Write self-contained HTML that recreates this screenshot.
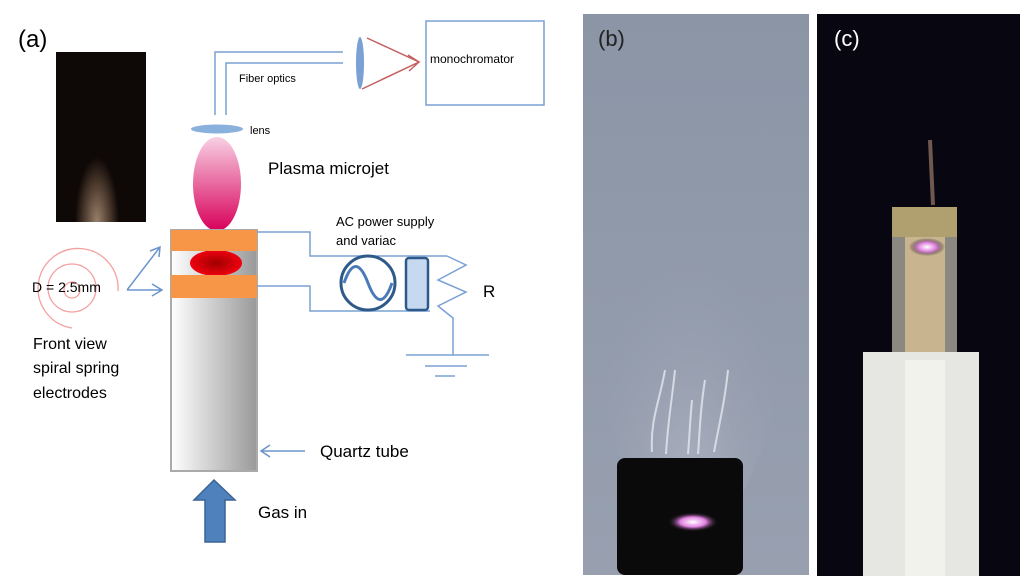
<!DOCTYPE html>
<html><head><meta charset="utf-8"><style>
body{margin:0;background:#fff;width:1027px;height:585px;overflow:hidden}
svg{display:block}
text{font-family:"Liberation Sans",sans-serif}
</style></head><body>
<svg width="1027" height="585" viewBox="0 0 1027 585" xmlns="http://www.w3.org/2000/svg">
<defs>
<linearGradient id="tube" x1="0" x2="1"><stop offset="0" stop-color="#fff"/><stop offset="1" stop-color="#999"/></linearGradient>
<linearGradient id="plasma" x1="0" y1="0" x2="0" y2="1"><stop offset="0" stop-color="#f8d0e4"/><stop offset="1" stop-color="#d8005a"/></linearGradient>
<radialGradient id="red"><stop offset="0" stop-color="#a00000"/><stop offset="1" stop-color="#f00010"/></radialGradient>
<radialGradient id="jetA"><stop offset="0" stop-color="#9a806c"/><stop offset="0.6" stop-color="#4a382c"/><stop offset="1" stop-color="#0e0806"/></radialGradient>
<linearGradient id="bg" x1="0" y1="0" x2="0" y2="1"><stop offset="0" stop-color="#8b95a6"/><stop offset="1" stop-color="#98a0b0"/></linearGradient>
<radialGradient id="glow"><stop offset="0" stop-color="#fff"/><stop offset="0.5" stop-color="#e080e0"/><stop offset="1" stop-color="#000" stop-opacity="0"/></radialGradient>
<radialGradient id="mist" cx="0.5" cy="0.9" r="0.7"><stop offset="0" stop-color="#b8bcca"/><stop offset="1" stop-color="#8b95a6" stop-opacity="0"/></radialGradient>
<clipPath id="ph"><rect x="56" y="52" width="90" height="170"/></clipPath>
</defs>
<text x="18" y="47" font-size="24">(a)</text>
<rect x="56" y="52" width="90" height="170" fill="#0e0806"/>
<ellipse cx="97" cy="222" rx="22" ry="65" fill="url(#jetA)" clip-path="url(#ph)"/>
<!-- fiber -->
<path d="M215 115V52H343M226 115V63H343" fill="none" stroke="#7aa0d4" stroke-width="1.5"/>
<text x="239" y="82" font-size="11">Fiber optics</text>
<ellipse cx="360" cy="63" rx="4" ry="26" fill="#7aa0d4"/>
<path d="M367 38L419 62L362 89M408 55L419 62L409 71" fill="none" stroke="#c46060" stroke-width="1.5"/>
<rect x="426" y="21" width="118" height="84" fill="none" stroke="#7aa0d4" stroke-width="1.5"/>
<text x="430" y="63" font-size="12">monochromator</text>
<ellipse cx="217" cy="129" rx="26" ry="4.5" fill="#8ab0dd"/>
<text x="250" y="134" font-size="11">lens</text>
<ellipse cx="217" cy="184" rx="24" ry="47" fill="url(#plasma)"/>
<text x="268" y="174" font-size="17">Plasma microjet</text>
<!-- tube -->
<rect x="171" y="230" width="86" height="241" fill="url(#tube)" stroke="#aaa" stroke-width="2"/>
<ellipse cx="216" cy="263" rx="26" ry="13" fill="url(#red)"/>
<rect x="171" y="230" width="86" height="21" fill="#f79646"/>
<rect x="171" y="275" width="86" height="23" fill="#f79646"/>
<!-- circuit -->
<path d="M257 232H310V256H447M257 286H310V311H430" fill="none" stroke="#7aa0d4" stroke-width="1.5"/>
<text x="336" y="226" font-size="13">AC power supply</text>
<text x="336" y="245" font-size="13">and variac</text>
<circle cx="368" cy="283" r="27" fill="#fff" stroke="#2e5a8a" stroke-width="3"/>
<path d="M344 283C352 260 360 262 368 283S384 306 392 283" fill="none" stroke="#4a7ab8" stroke-width="3"/>
<rect x="406" y="258" width="22" height="52" rx="3" fill="#c6d9f1" stroke="#2e5a8a" stroke-width="2.5"/>
<path d="M447 256L466 265L438 280L466 292L438 306L453 318V355M406 355H489M425 366H467M435 376H455" fill="none" stroke="#7aa0d4" stroke-width="1.5"/>
<text x="483" y="297" font-size="17">R</text>
<!-- spiral -->
<g fill="none" stroke="#f4a0a0" stroke-width="1.3">
<circle cx="72" cy="290" r="8"/><circle cx="72" cy="288" r="24"/><path d="M72 328A40 40 0 1 1 118 291"/>
</g>
<text x="32" y="292" font-size="14">D = 2.5mm</text>
<path d="M127 290L160 247M150 251L160 247L159 257M127 290H162M152 284L162 290L152 296" fill="none" stroke="#6a95cc" stroke-width="1.5"/>
<text x="33" y="349" font-size="16">Front view</text>
<text x="33" y="373" font-size="16">spiral spring</text>
<text x="33" y="398" font-size="16">electrodes</text>
<path d="M305 451H261M270 445L261 451L270 457" fill="none" stroke="#6a95cc" stroke-width="1.5"/>
<text x="320" y="457" font-size="17">Quartz tube</text>
<path d="M214 480L235 500H225V542H205V500H194Z" fill="#4f81bd" stroke="#3a6496" stroke-width="1.5"/>
<text x="258" y="518" font-size="17">Gas in</text>
<!-- panel b -->
<rect x="583" y="14" width="226" height="561" fill="url(#bg)"/>
<ellipse cx="690" cy="330" rx="90" ry="200" fill="url(#mist)" opacity="0.6"/>
<g fill="none" stroke="#e0e4ec" stroke-width="2" opacity="0.85">
<path d="M652 452C650 420 660 400 665 370M666 454C668 420 672 400 675 370M698 454C700 430 700 410 705 380M714 452C720 420 725 400 728 370M688 454C690 430 690 420 692 400"/>
</g>
<rect x="617" y="458" width="126" height="117" rx="8" fill="#0a0a0a"/>
<ellipse cx="693" cy="522" rx="26" ry="10" fill="url(#glow)"/>
<text x="598" y="46" font-size="22" fill="#222">(b)</text>
<!-- panel c -->
<rect x="817" y="14" width="203" height="562" fill="#080610"/>
<path d="M930 140L933 205" stroke="#6e5850" stroke-width="4"/>
<rect x="892" y="207" width="65" height="145" fill="#8a8880"/>
<rect x="905" y="215" width="40" height="137" fill="#c8b590"/>
<rect x="892" y="207" width="65" height="30" fill="#b0a070"/>
<ellipse cx="927" cy="247" rx="18" ry="9" fill="url(#glow)"/>
<rect x="863" y="352" width="116" height="224" fill="#e6e6e2"/>
<rect x="905" y="360" width="40" height="216" fill="#f2f2ec"/>
<text x="834" y="46" font-size="22" fill="#fff">(c)</text>
</svg>
</body></html>
